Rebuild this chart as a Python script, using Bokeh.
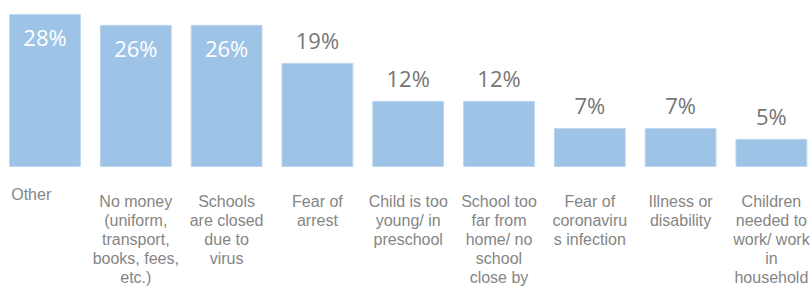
from bokeh.plotting import figure
from bokeh.models import Range1d, ColumnDataSource
from bokeh.core.properties import value
from bokeh.embed import file_html
from bokeh.resources import INLINE

categories = [
    "Other",
    "No money\n(uniform,\ntransport,\nbooks, fees,\netc.)",
    "Schools\nare closed\ndue to\nvirus",
    "Fear of\narrest",
    "Child is too\nyoung/ in\npreschool",
    "School too\nfar from\nhome/ no\nschool\nclose by",
    "Fear of\ncoronaviru\ns infection",
    "Illness or\ndisability",
    "Children\nneeded to\nwork/ work\nin\nhousehold",
]
values = [28, 26, 26, 19, 12, 12, 7, 7, 5]
value_labels = ["28%", "26%", "26%", "19%", "12%", "12%", "7%", "7%", "5%"]

W, H = 810, 286
BASE = 166                         # baseline pixel row
PX_PER_UNIT = (BASE - 14) / 28.0   # vertical pixels per percent
Y_TOP = BASE / PX_PER_UNIT
Y_BOT = -((H - BASE) / PX_PER_UNIT)
X_STEP = 90.8
X0 = -44.5 / X_STEP
X1 = X0 + W / X_STEP

p = figure(width=W, height=H, output_backend="svg", toolbar_location=None,
           x_range=Range1d(X0, X1), y_range=Range1d(Y_BOT, Y_TOP),
           min_border=0, outline_line_color=None)
p.xaxis.visible = False
p.yaxis.visible = False
p.xgrid.visible = False
p.ygrid.visible = False
p.background_fill_color = "white"

xs = list(range(len(values)))
src = ColumnDataSource(dict(x=xs, top=values, lab=value_labels))
p.vbar(x="x", top="top", bottom=0, width=0.78, source=src,
       fill_color="#9DC3E6", line_color="#BDD7EE", line_width=1)

inside = [i for i, v in enumerate(values) if v >= 20]
outside = [i for i, v in enumerate(values) if v < 20]

p.text(x=[xs[i] for i in inside],
       y=[values[i] - 22.5 / PX_PER_UNIT for i in inside],
       text=[value_labels[i] for i in inside],
       text_align="center", text_baseline="middle",
       text_font=value("Open Sans"), text_font_size="22px", text_color="white")
p.text(x=[xs[i] for i in outside],
       y=[values[i] + 23.5 / PX_PER_UNIT for i in outside],
       text=[value_labels[i] for i in outside],
       text_align="center", text_baseline="middle",
       text_font=value("Open Sans"), text_font_size="22px", text_color="#767676")

def page_y(py):
    return Y_TOP - py / PX_PER_UNIT

# category labels
p.text(x=xs[1:], y=[page_y(192)] * (len(xs) - 1), text=categories[1:],
       text_align="center", text_baseline="top",
       text_font=value("Liberation Sans"), text_font_size="16px",
       text_color="#858585", text_line_height=1.12)
p.text(x=[xs[0] - 0.372], y=[page_y(185.5)], text=[categories[0]],
       text_align="left", text_baseline="top",
       text_font=value("Liberation Sans"), text_font_size="16px",
       text_color="#858585", text_line_height=1.12)

open("out.html", "w").write(file_html(p, INLINE))
